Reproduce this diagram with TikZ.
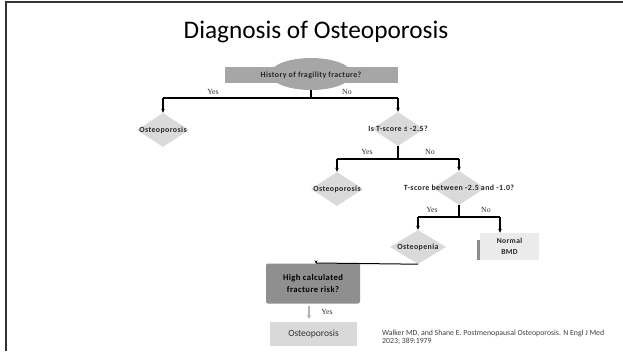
\documentclass[tikz,border=0pt]{standalone}
\usepackage{fontspec}
\setmainfont{Carlito}
\newfontfamily\serifyn{Liberation Serif}
\newfontfamily\spaced[LetterSpace=5]{Carlito}
\usetikzlibrary{shapes.geometric,arrows.meta}
\definecolor{dia}{HTML}{DADADA}
\definecolor{topg}{HTML}{A6A6A6}
\definecolor{darkg}{HTML}{8F8F8F}
\definecolor{lightg}{HTML}{EBEBEB}
\definecolor{boxg}{HTML}{D9D9D9}
\tikzset{
  dnode/.style={diamond,fill=dia,inner sep=0pt,minimum width=52pt,minimum height=34pt},
  dtext/.style={font=\spaced\fontsize{7.9}{8}\selectfont\bfseries,text=black!85},
  yn/.style={font=\serifyn\fontsize{7.8}{8}\selectfont,text=black!80},
  conn/.style={line width=1.2pt,black},
  arr/.style={line width=1.2pt,black,-{Stealth[length=4pt,width=3.5pt]}},
}
\begin{document}
\begin{tikzpicture}[x=1pt,y=-1pt]
\useasboundingbox (0,0) rectangle (623,351);
\fill[white] (0,0) rectangle (623,351);
% frame
\draw[line width=1.6pt,black!80] (6,351) -- (6,2) -- (623,2);
% title
\node (title) at (316,32) {\fontsize{25.3}{28}\selectfont Diagnosis of Osteoporosis};
% top node
\fill[topg] (311,74) ellipse (41pt and 16pt);
\node[fill=topg,minimum width=173pt,minimum height=16pt,inner sep=0pt] (q1) at (311,75) {};
\node[dtext] at (311,75) {History of fragility fracture?};
\coordinate (q1b) at (311,90);
\coordinate (s1) at (311,98);
\coordinate (s1l) at (163,98);
\coordinate (s1r) at (398,98);
% level 1 diamonds
\node[dnode,label={[dtext]center:Osteoporosis}] (o1) at (163,130) {};
\node[dnode,label={[dtext]center:Is T-score ≤ -2.5?}] (q2) at (398,129) {};
\draw[conn] (q1b) -- (s1);
\draw[conn] (s1l) -- (s1r);
\draw[arr] (s1l) -- (o1.north);
\draw[arr] (s1r) -- (q2.north);
\node[yn] at (213,92) {Yes};
\node[yn] at (347,92) {No};
% level 2
\coordinate (s2) at (398,159);
\coordinate (s2l) at (337,159);
\coordinate (s2r) at (459,159);
\node[dnode,label={[dtext]center:Osteoporosis}] (o2) at (337,189) {};
\node[dnode,label={[dtext]center:T-score between -2.5 and -1.0?}] (q3) at (459,188) {};
\draw[conn] (q2.south) -- (s2);
\draw[conn] (s2l) -- (s2r);
\draw[arr] (s2l) -- (o2.north);
\draw[arr] (s2r) -- (q3.north);
\node[yn] at (367,152) {Yes};
\node[yn] at (430,152) {No};
% level 3
\coordinate (s3) at (459,217);
\coordinate (s3l) at (418,217);
\coordinate (s3r) at (500,217);
\node[dnode,minimum width=56pt,label={[dtext]center:Osteopenia}] (o3) at (418,247) {};
\node[fill=lightg,minimum width=59pt,minimum height=27pt,inner sep=0pt,align=center,text=black!85,font=\spaced\fontsize{7.6}{10.5}\selectfont\bfseries] (nb) at (509.5,246.5) {Normal\\BMD};
\fill[black!45] (476.5,240) rectangle (479.5,260);
\draw[conn] (q3.south) -- (s3);
\draw[conn] (s3l) -- (s3r);
\draw[arr] (s3l) -- (o3.north);
\draw[arr] (s3r) -- (s3r |- nb.north);
\node[yn] at (432,210) {Yes};
\node[yn] at (486,210) {No};
% bottom
\node[fill=darkg,rounded corners=2pt,minimum width=94pt,minimum height=40pt,inner sep=0pt,align=center,font=\spaced\fontsize{8.6}{12}\selectfont\bfseries] (hc) at (313,283.5) {High calculated\\fracture risk?};
\coordinate (s4) at (316,263);
\draw[line width=1pt] (o3.south) -- (s4);
\draw[-{Stealth[length=3pt,width=3pt]},line width=1pt] (s4) -- (hc.north -| s4);
\node[fill=boxg,minimum width=87pt,minimum height=24pt,inner sep=0pt,font=\fontsize{9.5}{11}\selectfont,text=black!80] (op) at (313.5,334) {Osteoporosis};
\draw[black!30,line width=1.2pt,-{Stealth[length=4pt,width=4pt]}] (309,306) -- (309,319);
\node[yn] at (327,312) {Yes};
% citation
\node[anchor=north west,align=left,inner sep=0pt,font=\fontsize{7.8}{6.2}\selectfont,text=black!75] (cit) at (382,330) {Walker MD, and Shane E. Postmenopausal Osteoporosis. N Engl J Med\\2023; 389:1979};
\end{tikzpicture}
\end{document}
